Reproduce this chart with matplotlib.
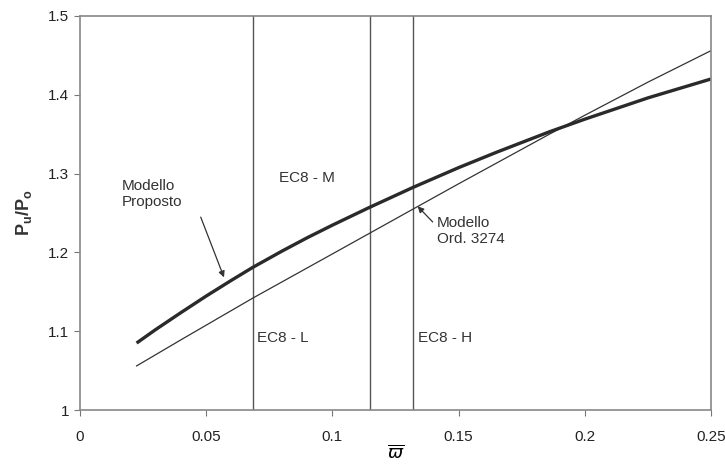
import numpy as np
import matplotlib
matplotlib.use("Agg")
import matplotlib.pyplot as plt

plt.rcParams['font.family'] = ['Liberation Sans', 'DejaVu Sans']

# curves
omega_prop = [0.0225, 0.03, 0.04, 0.05, 0.06, 0.0685, 0.08, 0.09, 0.1, 0.115,
              0.132, 0.15, 0.165, 0.186, 0.2, 0.225, 0.25]
pu_prop = [1.085, 1.102, 1.1235, 1.1445, 1.1645, 1.181, 1.2015, 1.2185, 1.2345,
           1.2575, 1.2825, 1.3075, 1.327, 1.353, 1.369, 1.396, 1.420]

omega_ord = [0.0225, 0.04, 0.0685, 0.1, 0.132, 0.15, 0.186, 0.2, 0.225, 0.25]
pu_ord = [1.056, 1.089, 1.142, 1.198, 1.255, 1.287, 1.350, 1.374, 1.416, 1.456]

ec8_limits = [0.0685, 0.115, 0.132]

x_ticks = [0, 0.05, 0.1, 0.15, 0.2, 0.25]
x_labels = ['0', '0.05', '0.1', '0.15', '0.2', '0.25']
y_ticks = [1.0, 1.1, 1.2, 1.3, 1.4, 1.5]
y_labels = ['1', '1.1', '1.2', '1.3', '1.4', '1.5']

fig = plt.figure(figsize=(7.25, 4.66), dpi=100)
ax = fig.add_axes([0.110, 0.120, 0.871, 0.846])

for xv in ec8_limits:
    ax.axvline(xv, color='#555555', lw=1.0)

ax.plot(omega_ord, pu_ord, color='#333333', lw=0.9)
ax.plot(omega_prop, pu_prop, color='#2a2a2a', lw=2.4, solid_capstyle='butt',
        solid_joinstyle='round')

ax.set_xlim(0, 0.25)
ax.set_ylim(1.0, 1.5)
ax.set_xticks(x_ticks)
ax.set_xticklabels(x_labels)
ax.set_yticks(y_ticks)
ax.set_yticklabels(y_labels)
ax.tick_params(direction='out', length=4, color='#777777', labelsize=11,
               labelcolor='#222222')
ax.tick_params(axis='x', pad=10)
for s in ax.spines.values():
    s.set_color('#888888')
    s.set_linewidth(1.2)

ax.set_xlabel(r'$\overline{\varpi}$', fontsize=13, labelpad=1)
ax.set_ylabel(r'P$_\mathregular{u}$/P$_\mathregular{o}$', fontsize=13,
              fontweight='bold', color='#333333', labelpad=10)

txt = dict(fontsize=11, color='#333333')
ax.text(0.090, 1.294, 'EC8 - M', ha='center', va='center', **txt)
ax.text(0.070, 1.091, 'EC8 - L', ha='left', va='center', **txt)
ax.text(0.134, 1.091, 'EC8 - H', ha='left', va='center', **txt)
ax.text(0.0165, 1.274, 'Modello\nProposto', ha='left', va='center',
        linespacing=1.2, **txt)
ax.text(0.1415, 1.227, 'Modello\nOrd. 3274', ha='left', va='center',
        linespacing=1.2, **txt)

ax.annotate('', xy=(0.0575, 1.165), xytext=(0.0475, 1.248),
            arrowprops=dict(arrowstyle='-|>', color='#333333', lw=0.9,
                            mutation_scale=9))
ax.annotate('', xy=(0.133, 1.261), xytext=(0.1405, 1.236),
            arrowprops=dict(arrowstyle='-|>', color='#333333', lw=0.9,
                            mutation_scale=9))

fig.savefig('out.png', dpi=100)
plt.close(fig)
